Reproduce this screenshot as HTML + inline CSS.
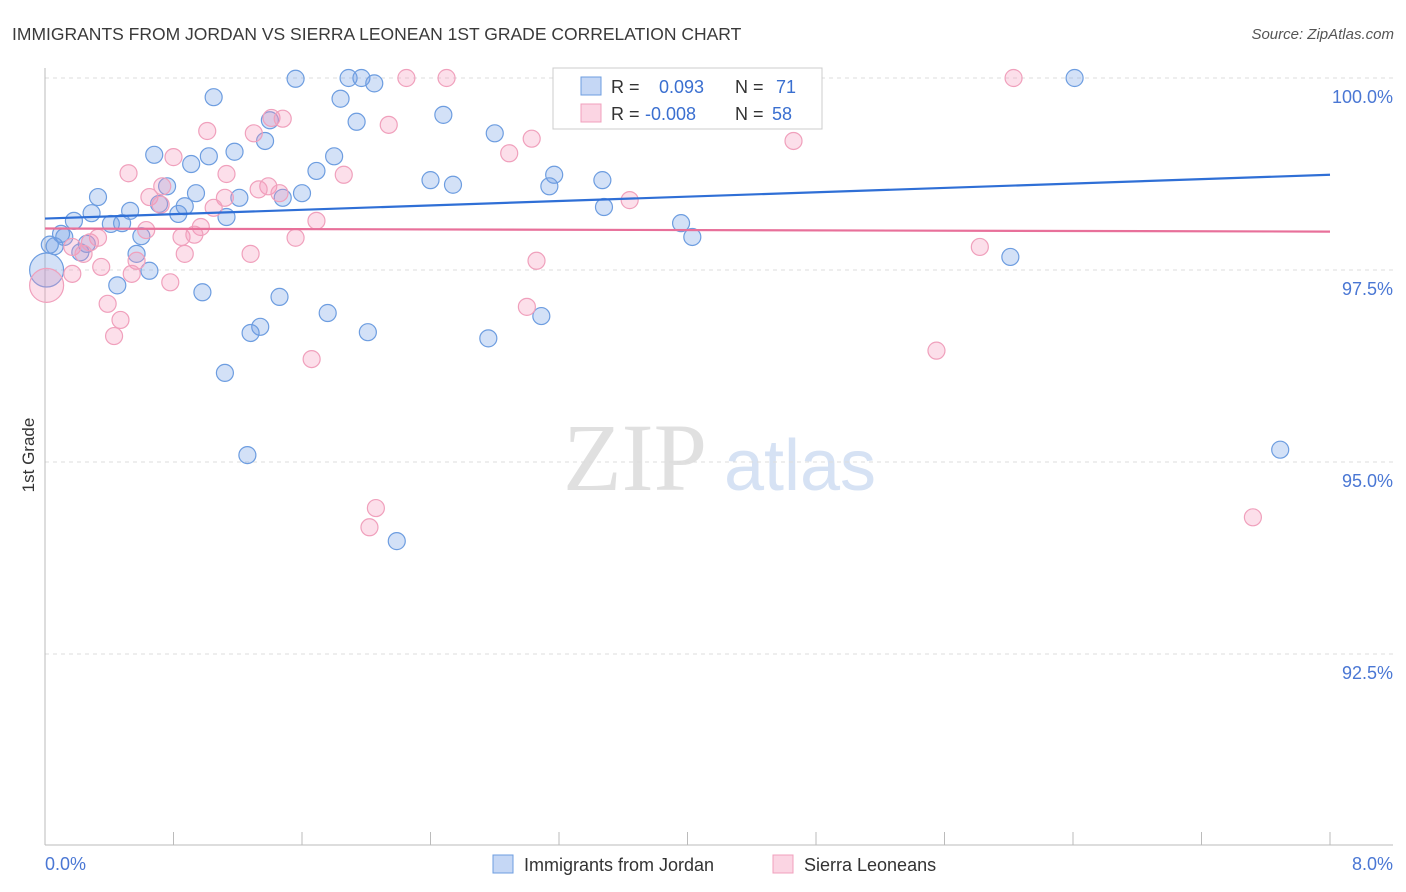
<!DOCTYPE html>
<html><head><meta charset="utf-8"><style>
body{margin:0;background:#fff;font-family:"Liberation Sans",sans-serif;}
svg{display:block}
</style></head><body>
<svg id="chart" width="1406" height="892">
<text x="12" y="40" font-size="17.5" fill="#3a3a3a">IMMIGRANTS FROM JORDAN VS SIERRA LEONEAN 1ST GRADE CORRELATION CHART</text>
<text x="1394" y="39" font-size="15" fill="#555" font-style="italic" text-anchor="end">Source: ZipAtlas.com</text>
<text transform="translate(34,455) rotate(-90)" font-size="17" fill="#333" text-anchor="middle">1st Grade</text>
<g>
<text x="635" y="490" font-size="96" font-family="Liberation Serif,serif" fill="#e0e0e0" text-anchor="middle">ZIP</text>
<text x="800" y="490" font-size="72" fill="#d6e2f4" text-anchor="middle">atlas</text>
</g>
<g id="grid"></g>
<line x1="45" y1="68" x2="45" y2="845" stroke="#bbb"/>
<line x1="45" y1="845" x2="1393" y2="845" stroke="#bbb"/>
<g id="ticks"></g>
<text x="45" y="870" font-size="18" fill="#4a77d4">0.0%</text>
<text x="1393" y="870" font-size="18" fill="#4a77d4" text-anchor="end">8.0%</text>
<g id="points"></g>
<g id="trends"></g>
<g>
<rect x="553" y="68" width="269" height="61" fill="#fff" stroke="#ccc"/>
<rect x="581" y="77" width="20" height="18" fill="rgba(110,155,230,0.4)" stroke="#6d9de0"/>
<rect x="581" y="104" width="20" height="18" fill="rgba(245,150,185,0.4)" stroke="#f0a0bc"/>
<text x="611" y="93" font-size="18" fill="#333">R = <tspan x="659" fill="#3a6fd0">0.093</tspan><tspan x="735" fill="#333">N = </tspan><tspan x="776" fill="#3a6fd0">71</tspan></text>
<text x="611" y="120" font-size="18" fill="#333">R = <tspan x="645" fill="#3a6fd0">-0.008</tspan><tspan x="735" fill="#333">N = </tspan><tspan x="772" fill="#3a6fd0">58</tspan></text>
</g>
<g>
<rect x="493" y="855" width="20" height="18" fill="rgba(110,155,230,0.4)" stroke="#6d9de0"/>
<text x="524" y="871" font-size="18" fill="#333">Immigrants from Jordan</text>
</g>
<g>
<rect x="773" y="855" width="20" height="18" fill="rgba(245,150,185,0.4)" stroke="#f0a0bc"/>
<text x="804" y="871" font-size="18" fill="#333">Sierra Leoneans</text>
</g>
</svg>
<script>
const yTicks=[100,97.5,95,92.5];
const yTickLabels=["100.0%","97.5%","95.0%","92.5%"];
const xTickVals=[0,0.8,1.6,2.4,3.2,4,4.8,5.6,6.4,7.2,8];
const blueX=[1.56,1.89,1.97,2.05,3.27,3.72,6.41,1.05,1.84,2.48,1.94,1.40,2.80,1.37,0.68,1.02,1.18,1.80,0.91,1.69,2.40,2.54,3.17,3.14,3.47,0.76,0.33,0.94,1.21,1.48,1.60,0.71,0.87,0.53,0.29,0.83,1.13,0.18,0.41,0.48,3.48,3.96,0.10,0.12,0.60,4.03,0.26,0.06,0.22,0.57,6.01,0.65,0.45,0.98,1.46,1.76,3.09,1.34,1.28,2.01,2.76,1.12,1.26,7.69,2.19,0.01,0.03];
const blueY=[99.99,100,100,99.93,100,100,100,99.75,99.73,99.52,99.43,99.45,99.28,99.18,99.00,98.98,99.04,98.98,98.88,98.79,98.67,98.61,98.74,98.59,98.67,98.59,98.45,98.50,98.44,98.44,98.50,98.36,98.33,98.27,98.24,98.23,98.19,98.14,98.10,98.11,98.32,98.11,97.97,97.93,97.94,97.93,97.84,97.81,97.73,97.71,97.67,97.49,97.30,97.21,97.15,96.94,96.90,96.76,96.68,96.69,96.61,96.16,95.09,95.16,93.97,97.50,97.83];
const pinkX=[2.25,2.50,4.33,6.03,1.41,1.48,2.14,3.73,1.01,1.30,3.03,4.66,2.89,0.80,0.52,1.86,1.13,0.73,1.39,1.33,1.46,0.65,1.12,3.64,1.05,0.72,1.69,0.97,0.63,0.33,0.85,0.93,1.56,0.28,0.17,0.24,0.87,1.28,3.06,0.35,0.57,5.82,0.17,0.54,0.78,0.01,0.39,3.00,0.47,0.43,1.66,5.55,2.06,2.02,7.52];
const pinkY=[100,100,100,100,99.48,99.47,99.39,99.53,99.31,99.28,99.21,99.18,99.02,98.97,98.76,98.74,98.75,98.59,98.59,98.55,98.50,98.45,98.44,98.41,98.31,98.35,98.14,98.06,98.02,97.92,97.93,97.96,97.92,97.86,97.80,97.71,97.71,97.71,97.62,97.54,97.62,97.80,97.45,97.45,97.34,97.30,97.06,97.02,96.85,96.64,96.34,96.45,94.40,94.15,94.28];
const blueTrend=[98.17,98.74];
const pinkTrend=[98.04,98.00];
const X=v=>45+v/8*1285;
const Y=v=>78+(100-v)/2.5*192;
const NS="http://www.w3.org/2000/svg";
function mk(tag,attrs,parent){const e=document.createElementNS(NS,tag);for(const k in attrs)e.setAttribute(k,attrs[k]);parent.appendChild(e);return e;}
const grid=document.getElementById('grid');
yTicks.forEach((t,i)=>{
  const l=mk('line',{x1:45,x2:1393,y1:Y(t),y2:Y(t),stroke:'#ddd','stroke-dasharray':'4,4'},grid);
  
  
  const tx=mk('text',{x:1393,y:Y(t)+25,'font-size':18,fill:'#4a77d4','text-anchor':'end'},grid);
  tx.textContent=yTickLabels[i];
  
  
});
const ticks=document.getElementById('ticks');
xTickVals.forEach(v=>{
  const l=mk('line',{x1:X(v),x2:X(v),y1:832,y2:845,stroke:'#bbb'},ticks);
  
  
});
const pts=document.getElementById('points');
function draw(xs,ys,fill,stroke,name){
  xs.forEach((x,i)=>{
    const big=(x<0.02);
    const c=mk('circle',{cx:X(x),cy:Y(ys[i]),r:big?17:8.5,fill:fill,stroke:stroke,'stroke-width':1.2},pts);
    
    
  });
}
draw(blueX,blueY,'rgba(110,155,230,0.3)','#6d9de0','jordan-point');
draw(pinkX,pinkY,'rgba(245,150,185,0.3)','#f0a0bc','sierra-leonean-point');
const tr=document.getElementById('trends');
const b=mk('line',{x1:X(0),x2:X(8),y1:Y(blueTrend[0]),y2:Y(blueTrend[1]),stroke:'#2f6fd6','stroke-width':2.2},tr);


const p=mk('line',{x1:X(0),x2:X(8),y1:Y(pinkTrend[0]),y2:Y(pinkTrend[1]),stroke:'#e8709a','stroke-width':2.2},tr);


</script>
</body></html>
